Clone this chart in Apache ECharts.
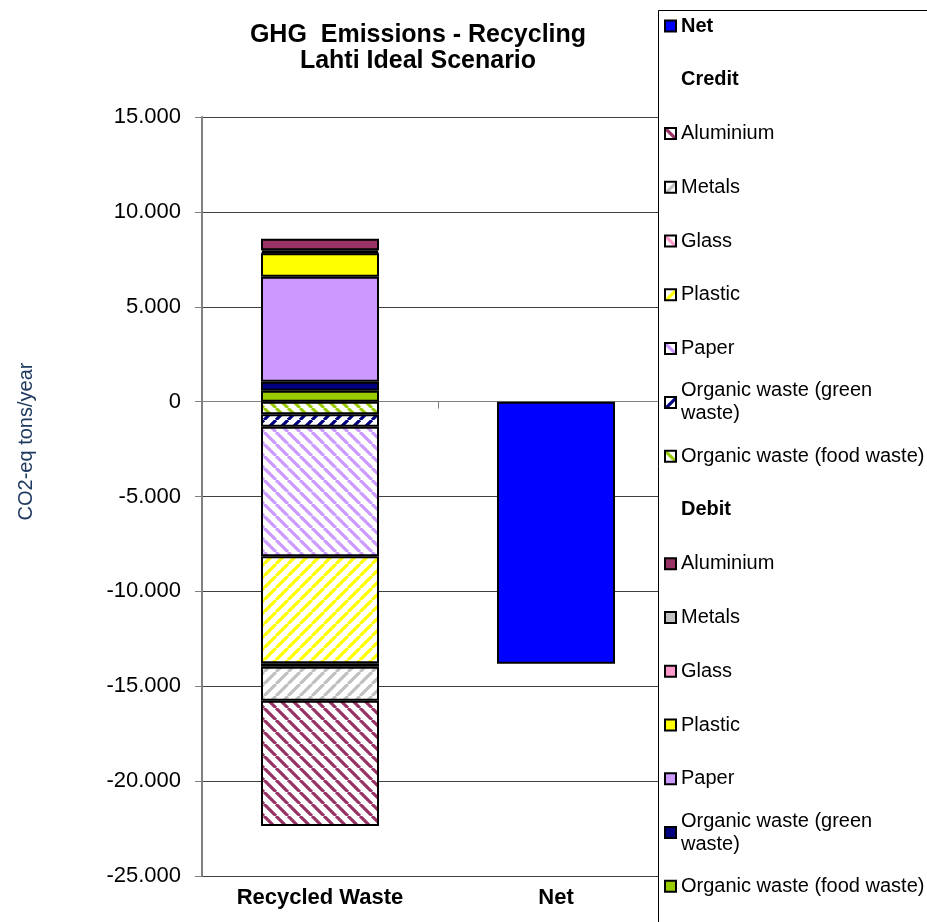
<!DOCTYPE html>
<html>
<head>
<meta charset="utf-8">
<script src="https://cdn.jsdelivr.net/npm/echarts@6/dist/echarts.min.js"></script>
<style>
  html, body { margin: 0; padding: 0; background: #ffffff; }
  #chart { width: 927px; height: 922px; }
</style>
</head>
<body>
<div id="chart"></div>
<script>
// Categories on the x axis
const categories = ['Recycled Waste', 'Net'];

// Material groups, in legend order
const materials = ['Aluminium', 'Metals', 'Glass', 'Plastic', 'Paper',
  'Organic waste (green waste)', 'Organic waste (food waste)'];

// Avoided emissions (credit), tons CO2-eq / year, same order as materials
const creditValues = [-6600, -1790, -185, -5640, -6830, -650, -670];
// Caused emissions (debit), tons CO2-eq / year, same order as materials
const debitValues = [605, 100, 60, 1240, 5530, 475, 570];
// Net balance
const netValue = -13820;

// Y axis tick range
const yMin = -25000, yMax = 15000, yStep = 5000;

const materialColors = ['#993366', '#C0C0C0', '#FF99CC', '#FFFF00', '#CC99FF', '#000080', '#99CC00'];
const hatchDirs = ['\\', '/', '\\', '/', '\\', '/', '\\'];

function hatch(color, dir) {
  const s = 12;
  const c = document.createElement('canvas');
  c.width = s; c.height = s;
  const g = c.getContext('2d');
  g.fillStyle = '#ffffff';
  g.fillRect(0, 0, s, s);
  g.strokeStyle = color;
  g.lineWidth = 3.2;
  g.beginPath();
  for (let k = -1; k <= 1; k++) {
    if (dir === '\\') { g.moveTo(k * s, 0); g.lineTo(k * s + s, s); }
    else { g.moveTo(k * s, s); g.lineTo(k * s + s, 0); }
  }
  g.stroke();
  return { image: c, repeat: 'repeat' };
}

function fmtTick(v) {
  if (v === 0) return '0';
  const s = Math.abs(v).toString().replace(/\B(?=(\d{3})+(?!\d))/g, '.');
  return (v < 0 ? '-' : '') + s;
}

const FONT = "'Liberation Sans', Arial, sans-serif";
const displayName = {};
const series = [];
const seriesBase = { type: 'bar', stack: 'total', barWidth: '50%', xAxisIndex: 0 };

// Stacking runs outward from zero: food waste first, aluminium last
const stackOrder = materials.map((m, i) => i).reverse();

function labelOf(m) {
  return m === 'Organic waste (green waste)' ? 'Organic waste (green\nwaste)' : m;
}

stackOrder.forEach(i => {
  const name = 'Debit ' + materials[i];
  displayName[name] = labelOf(materials[i]);
  series.push(Object.assign({}, seriesBase, {
    name,
    data: [debitValues[i], '-'],
    itemStyle: { color: materialColors[i], borderColor: '#000', borderWidth: 2 }
  }));
});
stackOrder.forEach(i => {
  const name = 'Credit ' + materials[i];
  displayName[name] = labelOf(materials[i]);
  series.push(Object.assign({}, seriesBase, {
    name,
    data: [creditValues[i], '-'],
    itemStyle: { color: hatch(materialColors[i], hatchDirs[i]), borderColor: '#000', borderWidth: 2 }
  }));
});
series.push(Object.assign({}, seriesBase, {
  name: 'Net',
  data: ['-', netValue],
  itemStyle: { color: '#0000FF', borderColor: '#000', borderWidth: 2 }
}));
displayName['Net'] = 'Net';
// Group headings shown in the legend
['Credit', 'Debit'].forEach(h => {
  displayName[h] = h;
  series.push(Object.assign({}, seriesBase, {
    name: h, data: [],
    itemStyle: { color: 'rgba(0,0,0,0)', borderWidth: 0 }
  }));
});

// Legend rows: every row occupies the same box so rows are evenly spaced
const LINE = 23, ROW = 3 * LINE, PITCH = 53.77;
const legendOrder = ['Net', 'Credit'].concat(materials.map(m => 'Credit ' + m))
  .concat(['Debit']).concat(materials.map(m => 'Debit ' + m));
const legendData = legendOrder.map(name => {
  const twoLines = displayName[name].indexOf('\n') >= 0;
  const bold = name === 'Net' || name === 'Credit' || name === 'Debit';
  return {
    name,
    textStyle: {
      fontWeight: bold ? 'bold' : 'normal',
      padding: twoLines ? [LINE, 0, 0, 0] : [LINE, 0, LINE, 0]
    }
  };
});

const chart = echarts.init(document.getElementById('chart'), null, { renderer: 'canvas' });
chart.setOption({
  backgroundColor: '#ffffff',
  animation: false,
  title: {
    text: 'GHG  Emissions - Recycling\nLahti Ideal Scenario',
    left: 418, top: 22, textAlign: 'center', padding: 0,
    textStyle: { fontFamily: FONT, fontSize: 25, fontWeight: 'bold', color: '#000', lineHeight: 26 }
  },
  graphic: [{
    type: 'rect', z: 3, silent: true,
    shape: { x: 658.5, y: 10.5, width: 300, height: 950 },
    style: { fill: '#ffffff', stroke: '#000000', lineWidth: 1 }
  }],
  legend: {
    orient: 'vertical', left: 664, top: 26 - ROW / 2, height: 1400, padding: 0,
    itemGap: PITCH - ROW, itemWidth: 11, itemHeight: 11, icon: 'rect',
    textStyle: { fontFamily: FONT, fontSize: 20, color: '#000', lineHeight: LINE },
    formatter: name => displayName[name],
    data: legendData
  },
  grid: { left: 202, top: 117, right: 253, bottom: 46, containLabel: false },
  xAxis: [{
    type: 'category', data: categories, position: 'bottom',
    axisLine: { show: false, onZero: false },
    axisTick: { show: false },
    axisLabel: { fontFamily: FONT, fontSize: 22, fontWeight: 'bold', color: '#000', margin: 11 },
    splitLine: { show: false }
  }, {
    type: 'category', data: categories, position: 'top',
    axisLine: { show: true, onZero: true, lineStyle: { color: '#808080', width: 1 } },
    axisTick: { show: true, inside: true, length: 7, lineStyle: { color: '#808080', width: 1 } },
    axisLabel: { show: false },
    splitLine: { show: false }
  }],
  yAxis: {
    type: 'value', min: yMin, max: yMax, interval: yStep,
    axisLine: { show: true, lineStyle: { color: '#808080', width: 2 } },
    axisTick: { show: true, length: 7, lineStyle: { color: '#808080', width: 1 } },
    axisLabel: { fontFamily: FONT, fontSize: 22, color: '#000', margin: 21, formatter: fmtTick },
    splitLine: { show: true, lineStyle: { color: '#404040', width: 1 } },
    name: 'CO2-eq tons/year', nameLocation: 'middle', nameRotate: 90, nameGap: 166,
    nameTextStyle: { fontFamily: FONT, fontSize: 20, color: '#1F3A60', padding: [0, 0, 0, 110] }
  },
  series
});
</script>
</body>
</html>
